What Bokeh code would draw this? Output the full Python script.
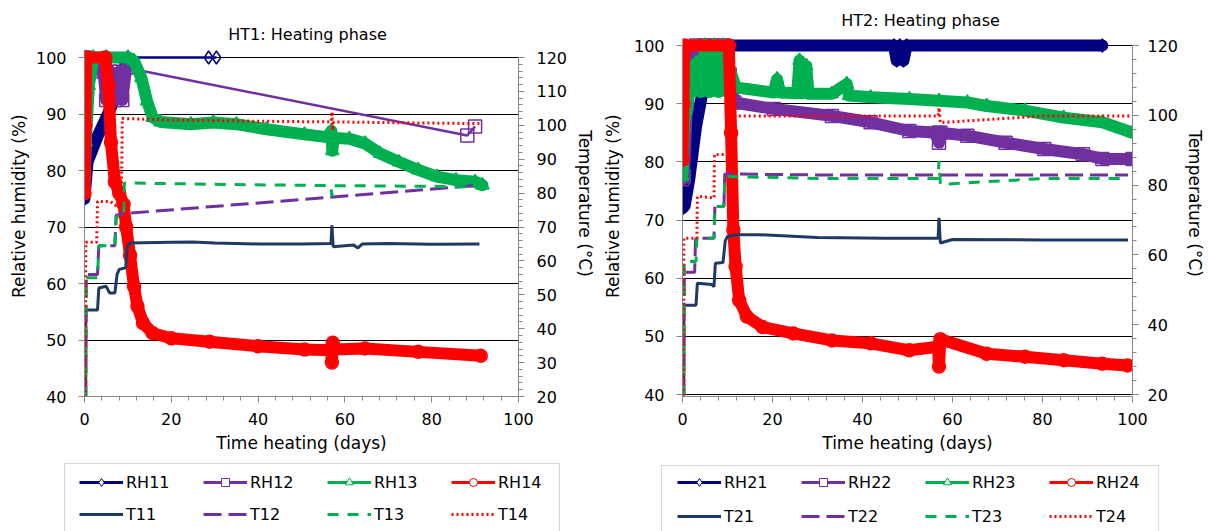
import numpy as np
from bokeh.plotting import figure
from bokeh.models import (Range1d, LinearAxis, Legend, LegendItem, Label,
                          SingleIntervalTicker, BoxAnnotation)
from bokeh.layouts import row, column
from bokeh.embed import file_html
from bokeh.resources import INLINE

FONT = "DejaVu Sans"
NAVY = "#000080"
PURPLE = "#7030A0"
GREEN = "#00B050"
RED = "#FF0000"
DNAVY = "#1F3864"
AXIS_GRAY = "#868686"

# ---------------- HT1 (left) ----------------
ht1_rh11_x = [0, 0.7, 3, 6, 9, 10, 28.6, 30.4]
ht1_rh11_y = [75, 81.5, 86, 91, 97, 100, 100, 100]
ht1_rh12_x = [0, 4.4, 5, 6, 7, 8, 8.7, 9.6, 88.2, 90]
ht1_rh12_y = [100, 97.5, 92.5, 97.5, 92.5, 97.5, 92.5, 98.2, 86.2, 87.8]
ht1_rh13_x = [0, 0.3, 1, 2, 5, 10, 11.4, 13.1, 14.4, 15.7, 17.5, 24.5, 29.7, 35, 41.9,
              50.7, 55.9, 56.9, 57.1, 57.4, 61, 64.6, 68.1, 72.5, 76.9, 81.2, 85.6, 90, 91.7]
ht1_rh13_y = [76, 85, 95, 100, 100, 100, 99.4, 96.4, 92.3, 89.4, 88.6, 88.2, 88.5, 88.2, 87.3,
              86.4, 85.9, 87, 83.5, 85.8, 85.6, 84.8, 83, 81.5, 80.1, 78.9, 78.3, 78, 77.4]
ht1_rh14_x = [0, 0.2, 0.4, 4.8, 5.5, 6.1, 7, 8, 9, 9.6, 10.5, 11.4, 12.2, 13.5, 15.7, 20,
              28.8, 40, 50.7, 56.8, 57, 57.2, 57.5, 64.6, 76.9, 91.3]
ht1_rh14_y = [76, 88, 100, 100, 95, 85, 78, 76, 74, 70, 65, 59.5, 56, 53, 51.2, 50.3,
              49.7, 48.9, 48.3, 48.2, 46, 49.5, 48.3, 48.5, 47.9, 47.2]
ht1_t11_x = [0, 0.25, 0.3, 3, 3.3, 5, 5.8, 7, 7.5, 8, 9.5, 9.8, 10.5, 20, 25, 30, 40, 50,
             56.8, 57, 57.3, 62, 63, 64, 70, 80, 91]
ht1_t11_y = [20, 20, 45.5, 45.5, 52, 52.5, 50.5, 50.5, 56, 57.5, 58, 64, 65.3, 65.5, 65.6,
             65.3, 65, 65, 65.1, 70.5, 64.2, 64.7, 63.8, 65, 65.1, 64.9, 65]
ht1_t12_x = [0, 0.3, 0.4, 3, 3.3, 7, 7.3, 9.6, 91]
ht1_t12_y = [20, 20, 56, 56, 64.5, 64.5, 73.5, 74, 82.3]
ht1_t13_x = [0, 0.3, 0.4, 3, 3.3, 7, 7.3, 9, 9.2, 30, 56.8, 57, 57.2, 80, 91]
ht1_t13_y = [20, 20, 55, 55, 64.5, 64.5, 73, 73, 83, 82.6, 82.2, 79, 82.2, 82, 81.8]
ht1_t14_x = [0, 0.2, 0.3, 2.8, 3, 6, 7, 8.5, 8.7, 20, 40, 56.8, 57, 57.2, 57.4, 70, 91]
ht1_t14_y = [20, 20, 65.5, 65.5, 77.5, 77.5, 76.5, 76, 102, 101.6, 101.2, 101, 104, 98.5,
             101, 100.8, 100.5]

# ---------------- HT2 (right) ----------------
ht2_rh21_x = [0, 0.5, 1.5, 3, 4.2, 6, 8, 10, 47, 47.6, 48.3, 49.1, 49.8, 93.3]
ht2_rh21_y = [72, 72.5, 77, 86, 91, 96, 99, 100, 100, 97.4, 100, 97.4, 100, 100]
ht2_rh22_x = [0, 0.3, 1, 3, 4, 5, 6, 7, 8, 9, 10.5, 11.5, 20.3, 33.2, 41.8, 50.4, 56.8, 57,
              57.3, 63.3, 71.8, 80.4, 89, 93.3, 100]
ht2_rh22_y = [77, 77.5, 90, 100, 96, 100, 95, 100, 96, 100, 95, 90.2, 89.1, 87.9, 86.8, 85.3,
              85, 83.3, 85, 84.5, 83.3, 82.2, 81.3, 80.5, 80.5]
ht2_rh23_x = [0, 0.3, 1.5, 3, 4, 5, 6, 7, 8, 9, 10.5, 11.8, 20.3, 21, 21.7, 25.5, 26, 26.5,
              27.5, 28, 33.2, 36.5, 37, 41.8, 50.4, 57, 63.3, 67.6, 76.1, 84.7, 93.3, 100]
ht2_rh23_y = [77.5, 86, 92, 97, 92, 100, 92, 100, 92, 100, 96, 92.8, 91.9, 94.2, 91.9, 91.8,
              97.4, 91.8, 96.5, 91.7, 91.7, 93.4, 91.4, 91.1, 90.8, 90.5, 90.2, 89.6, 88.8,
              87.6, 86.8, 85]
ht2_rh24_x = [0, 0.2, 0.4, 10.3, 10.8, 11.3, 11.8, 12.6, 14.3, 17.8, 24.6, 33.2, 41.8, 50.4,
              56.8, 57, 57.3, 67.6, 76.1, 84.7, 93.3, 98.9]
ht2_rh24_y = [80.4, 90, 100, 100, 85, 68.3, 62, 56.2, 53.4, 51.6, 50.5, 49.3, 48.8, 47.6,
              48.2, 44.8, 49.5, 47.0, 46.5, 45.9, 45.3, 45.0]
ht2_t21_x = [0, 0.25, 0.3, 3, 3.3, 6.5, 7, 7.3, 9, 9.5, 10, 12, 17, 30, 45, 56.8, 57, 57.3,
             60, 80, 99]
ht2_t21_y = [20, 20, 45.6, 45.6, 51.9, 51.5, 50.9, 57.6, 57.8, 64, 65.3, 65.8, 65.8, 65,
             64.8, 64.8, 70.6, 63.4, 64.4, 64.3, 64.3]
ht2_t22_x = [0, 0.3, 0.4, 2.7, 2.9, 7, 7.2, 9.2, 9.4, 30, 80, 99]
ht2_t22_y = [20, 20, 55, 55, 64.8, 64.8, 73.9, 73.9, 83.2, 82.9, 82.9, 82.9]
ht2_t23_x = [0, 0.3, 0.4, 3, 3.2, 7, 7.2, 9.2, 9.4, 30, 56.8, 57, 57.3, 80, 99]
ht2_t23_y = [20, 20, 58.1, 58.1, 64.8, 64.8, 73.9, 73.9, 82.5, 81.9, 81.9, 86.9, 80.2, 81.9,
             81.9]
ht2_t24_x = [0, 0.25, 0.3, 3.2, 3.3, 7, 7.1, 10, 10.1, 30, 56.8, 57, 57.3, 80, 100]
ht2_t24_y = [20, 20, 64.8, 64.8, 76.8, 76.3, 88.8, 88.8, 99.8, 99.8, 99.8, 102.2, 97.9, 99.8,
             99.8]

titles = ["HT1: Heating phase", "HT2: Heating phase"]
x_label = "Time heating (days)"
y_label = "Relative humidity  (%)"
r_label = "Temperature (°C)"

RH_MIN, RH_MAX = 40, 100
T_MIN, T_MAX = 20, 120


def rh_to_t(v):
    return T_MIN + (v - RH_MIN) * (T_MAX - T_MIN) / (RH_MAX - RH_MIN)


COLORS = [NAVY, PURPLE, GREEN, RED]
MARKERS = ["diamond", "square", "triangle", "circle"]
TCOLORS = [DNAVY, PURPLE, GREEN, RED]
DASHES = ["solid", "18 7", "11 9", "2 3"]

PLOT_H = 458
LEG_H = 531 - PLOT_H
B_LEFT, B_RIGHT, B_TOP, B_BOTTOM = 84, 75, 10, 62


def draw_rh(p, xs, ys, color, marker, thick_until=1e9):
    xs = np.asarray(xs, float)
    ys = np.asarray(ys, float)
    k = int(np.searchsorted(xs, thick_until, side="right"))
    p.line(xs[:k], ys[:k], line_color=color, line_width=12,
           line_join="round", line_cap="round")
    if k < len(xs):
        p.line(xs[k - 1:], ys[k - 1:], line_color=color, line_width=2.5)
    p.scatter(xs, ys, marker=marker, size=13, fill_color=None,
              line_color=color, line_width=1.5)


def draw_t(p, xs, ys, color, dash):
    p.line(xs, ys, line_color=color, line_width=3, line_dash=dash,
           y_range_name="temp")


def make_chart(title, rh, t, width, y_lo, y_hi, t_interval, title_x, title_y,
               ylab_standoff, ytick_standoff, rlab_standoff, rtick_standoff):
    p = figure(width=width, height=PLOT_H, x_range=Range1d(0, 100),
               y_range=Range1d(y_lo, y_hi), output_backend="svg",
               toolbar_location=None, min_border_left=B_LEFT, min_border_right=B_RIGHT,
               min_border_top=B_TOP, min_border_bottom=B_BOTTOM)
    p.extra_y_ranges = {"temp": Range1d(rh_to_t(y_lo), rh_to_t(y_hi))}
    p.outline_line_color = None

    p.add_layout(Label(x=title_x, y=title_y, text=title, text_align="center",
                       text_baseline="middle", text_font=FONT, text_font_size="16px",
                       text_color="black"))

    xa = p.xaxis[0]
    xa.ticker = SingleIntervalTicker(interval=20, num_minor_ticks=5)
    xa.axis_label = x_label
    ya = p.yaxis[0]
    ya.ticker = SingleIntervalTicker(interval=10, num_minor_ticks=0)
    ya.bounds = (RH_MIN, RH_MAX)
    ya.axis_label = y_label

    ra = LinearAxis(y_range_name="temp",
                    ticker=SingleIntervalTicker(interval=t_interval, num_minor_ticks=5),
                    bounds=(T_MIN, T_MAX), axis_label=r_label)
    p.add_layout(ra, "right")

    for ax in (xa, ya, ra):
        ax.axis_line_color = AXIS_GRAY
        ax.major_tick_line_color = AXIS_GRAY
        ax.minor_tick_line_color = AXIS_GRAY
        ax.major_tick_out = 6
        ax.major_tick_in = 0
        ax.minor_tick_out = 4
        ax.minor_tick_in = 0
        ax.major_label_text_font = FONT
        ax.major_label_text_font_size = "16px"
        ax.major_label_text_color = "black"
        ax.axis_label_text_font = FONT
        ax.axis_label_text_font_size = "17px"
        ax.axis_label_text_font_style = "normal"
        ax.axis_label_text_color = "black"
    xa.major_label_standoff = 10
    xa.axis_label_standoff = 5
    ya.major_label_standoff = ytick_standoff
    ya.axis_label_standoff = ylab_standoff
    ra.major_label_standoff = rtick_standoff
    ra.axis_label_standoff = rlab_standoff

    p.xgrid.visible = False
    p.ygrid.grid_line_color = "black"
    p.ygrid.grid_line_width = 1

    for (xs, ys, thick), c, m in zip(rh, COLORS, MARKERS):
        draw_rh(p, xs, ys, c, m, thick)
    for (xs, ys), c, d in zip(t, TCOLORS, DASHES):
        draw_t(p, xs, ys, c, d)
    return p


# left chart: 100 % at y=57 px, 40 % at y=396 px; right: 100 % at 45 px, 40 % at 394 px
frame_h = PLOT_H - B_TOP - B_BOTTOM
s1 = (396 - 57) / 60.0
s2 = (394 - 45) / 60.0
y1_lo = 40
y1_hi = 40 + frame_h / s1
y2_lo = 40 - (396 - 394) / s2
y2_hi = y2_lo + frame_h / s2

p1 = make_chart(
    titles[0],
    [(ht1_rh11_x, ht1_rh11_y, 10), (ht1_rh12_x, ht1_rh12_y, 9.6),
     (ht1_rh13_x, ht1_rh13_y, 1e9), (ht1_rh14_x, ht1_rh14_y, 1e9)],
    [(ht1_t11_x, ht1_t11_y), (ht1_t12_x, ht1_t12_y), (ht1_t13_x, ht1_t13_y),
     (ht1_t14_x, ht1_t14_y)],
    width=598, y_lo=y1_lo, y_hi=y1_hi, t_interval=10,
    title_x=51.4, title_y=100 + (57 - 34) / s1,
    ylab_standoff=4, ytick_standoff=12, rlab_standoff=5, rtick_standoff=12)

p2 = make_chart(
    titles[1],
    [(ht2_rh21_x, ht2_rh21_y, 1e9), (ht2_rh22_x, ht2_rh22_y, 1e9),
     (ht2_rh23_x, ht2_rh23_y, 1e9), (ht2_rh24_x, ht2_rh24_y, 1e9)],
    [(ht2_t21_x, ht2_t21_y), (ht2_t22_x, ht2_t22_y), (ht2_t23_x, ht2_t23_y),
     (ht2_t24_x, ht2_t24_y)],
    width=610, y_lo=y2_lo, y_hi=y2_hi, t_interval=20,
    title_x=52.9, title_y=100 + (45 - 20) / s2,
    ylab_standoff=8, ytick_standoff=12, rlab_standoff=4, rtick_standoff=9)

# ---------------- legends (one strip below both charts) ----------------
lf = figure(width=1208, height=LEG_H, x_range=Range1d(0, 1), y_range=Range1d(0, 1),
            x_axis_type=None, y_axis_type=None, output_backend="svg",
            toolbar_location=None, min_border_left=0, min_border_right=0,
            min_border_top=0, min_border_bottom=0)
lf.outline_line_color = None
lf.grid.visible = False


def add_legend_rows(names_rh, names_t, x0, y_rh, y_t):
    rh_items, t_items = [], []
    for name, c, m in zip(names_rh, COLORS, MARKERS):
        lr = lf.line([np.nan], [np.nan], line_color=c, line_width=3)
        sr = lf.scatter([np.nan], [np.nan], marker=m, size=12, fill_color="white",
                        line_color=c, line_width=1)
        rh_items.append(LegendItem(label=name, renderers=[lr, sr]))
    for name, c, d in zip(names_t, TCOLORS, DASHES):
        lr = lf.line([np.nan], [np.nan], line_color=c, line_width=3, line_dash=d)
        t_items.append(LegendItem(label=name, renderers=[lr]))
    for items, yy in ((rh_items, y_rh), (t_items, y_t)):
        lf.add_layout(Legend(items=items, orientation="horizontal", location=(x0, yy),
                             glyph_width=44, glyph_height=20, label_height=20,
                             label_width=67, label_standoff=3, spacing=10, padding=0,
                             margin=0, border_line_color=None, background_fill_alpha=0,
                             label_text_font=FONT, label_text_font_size="16px",
                             label_text_color="black"))


# page y of row centres -> bottom-up coordinates inside the legend strip
def strip_y(center_page_y):
    return LEG_H - (center_page_y - PLOT_H) - 10


add_legend_rows(["RH11", "RH12", "RH13", "RH14"], ["T11", "T12", "T13", "T14"],
                79, strip_y(482), strip_y(514))
add_legend_rows(["RH21", "RH22", "RH23", "RH24"], ["T21", "T22", "T23", "T24"],
                677, strip_y(482), strip_y(516))

for bl, br, bt in ((64, 559, 463), (661, 1158, 465)):
    lf.add_layout(BoxAnnotation(left=bl, right=br, top=LEG_H - (bt - PLOT_H), bottom=-10,
                                left_units="screen", right_units="screen",
                                top_units="screen", bottom_units="screen",
                                fill_alpha=0, fill_color=None, line_color="#7f7f7f",
                                line_width=1))

layout = column(row(p1, p2, spacing=0), lf, spacing=0)
open("out.html", "w").write(file_html(layout, INLINE))
